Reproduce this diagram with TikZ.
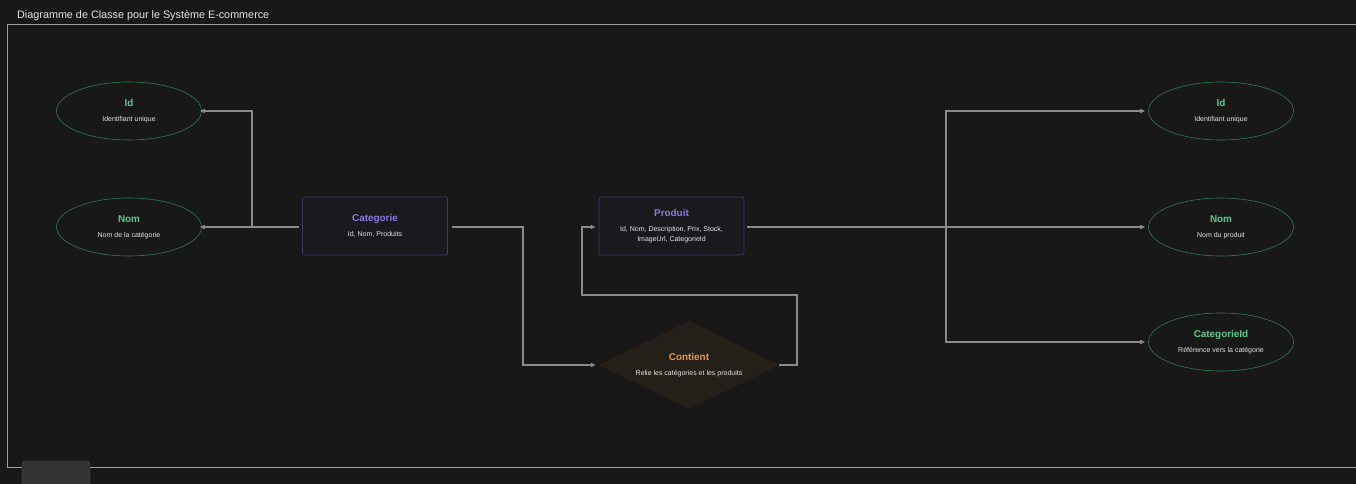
\documentclass[tikz,border=0pt]{standalone}
\usepackage{fontspec}
\setmainfont{Liberation Sans}
\usetikzlibrary{arrows.meta,
							calc,
							positioning,
							shapes.geometric}
\definecolor{bgdark}{HTML}{181818}
\definecolor{framegray}{HTML}{9C9C9C}
\definecolor{linkgray}{HTML}{8A8A8A}
\definecolor{attrline}{HTML}{2F7A55}
\definecolor{attrtext}{HTML}{5EC98C}
\definecolor{klassline}{HTML}{3E3575}
\definecolor{klassfill}{HTML}{1A1A1E}
\definecolor{klasstext}{HTML}{8C78E2}
\definecolor{relfill}{HTML}{251F19}
\definecolor{reltext}{HTML}{E39A50}
\definecolor{softwhite}{HTML}{E6E6E6}
\newcommand\nodetitle[2]{{\fontsize{9.9}{11}\selectfont\bfseries\color{#1}#2}}
\newcommand\nodetext[1]{{\fontsize{7}{11}\selectfont\color{softwhite}#1}}

\begin{document}
\begin{tikzpicture}[x=1pt, y=-1pt,
	 attr/.style = {ellipse, draw=attrline, line width=0.6pt,
									 minimum width=145pt, minimum height=58pt,
									 inner sep=0pt, align=center},
	klass/.style = {rectangle, rounded corners=2pt, draw=klassline,
									 fill=klassfill, line width=0.7pt,
									 minimum width=145pt, minimum height=58pt, align=center},
		rel/.style = {rectangle, minimum width=180pt,
									 minimum height=88pt, inner sep=0pt, align=center},
	 link/.style = {draw=linkgray, line width=1.5pt,
									 -{Triangle[length=5pt,width=4pt]}}]
%
\fill [bgdark] (0,0) rectangle (1356,484);
\useasboundingbox (0,0) rectangle (1356,484);
\draw [framegray, line width=0.9pt] (1360,24) -| (7,467) -- (1360,467);
\node [anchor=base west, font=\fontsize{10.8}{12}\selectfont, text=softwhite,
			 inner sep=0pt] (title) at (17,19) {Diagramme de Classe pour le Système E-commerce};
%
\node [attr]  (cat-id)  at (129,111) {\nodetitle{attrtext}{Id}\\[3pt]\nodetext{Identifiant unique}};
\node [attr]  (cat-nom) at (129,227) {\nodetitle{attrtext}{Nom}\\[3pt]\nodetext{Nom de la catégorie}};
\node [klass] (cat)     at (375,226) {\nodetitle{klasstext}{Categorie}\\[3pt]\nodetext{Id, Nom, Produits}};
\node [klass] (prod)    at (671.5,226) {\nodetitle{klasstext}{Produit}\\[3pt]\nodetext{Id, Nom, Description, Prix, Stock,}\\[-1.5pt]\nodetext{ImageUrl, CategorieId}};
\fill [relfill] (689,321) -- (779,365) -- (689,409) -- (599,365) -- cycle;
\node [rel]   (cont)    at (689,365) {\nodetitle{reltext}{Contient}\\[3pt]\nodetext{Relie les catégories et les produits}};
%
\node [attr]  (prod-id)  at (1221,111) {\nodetitle{attrtext}{Id}\\[3pt]\nodetext{Identifiant unique}};
\node [attr]  (prod-nom) at (1221,227) {\nodetitle{attrtext}{Nom}\\[3pt]\nodetext{Nom du produit}};
\node [attr]  (prod-cid) at (1221,342) {\nodetitle{attrtext}{CategorieId}\\[3pt]\nodetext{Référence vers la catégorie}};
%% connectors
\draw [link] ([xshift=-3pt,yshift=-1pt] cat.west) -- ([xshift=-2pt] cat-nom.east);
\draw [link] ([xshift=-3pt,yshift=-1pt] cat.west) -- (252,227) |- ([xshift=-2pt] cat-id.east);
\draw [link] ([xshift=4pt,yshift=-1pt] cat.east) -| (523,365) -- ([xshift=-3pt] cont.west);
\draw [link] (cont.east) -- (797,365) |- (582,295)
						 |- ([xshift=-3pt,yshift=-1pt] prod.west);
\draw [link] ([xshift=3pt,yshift=-1pt] prod.east) -- ([xshift=-3pt] prod-nom.west);
\draw [link] (946,227) |- ([xshift=-3pt] prod-id.west);
\draw [link] (946,227) |- ([xshift=-3pt] prod-cid.west);
%
\draw [fill=black!80, draw=black!65, rounded corners=3pt] (22,461) rectangle (90,492);
\end{tikzpicture}
\end{document}
